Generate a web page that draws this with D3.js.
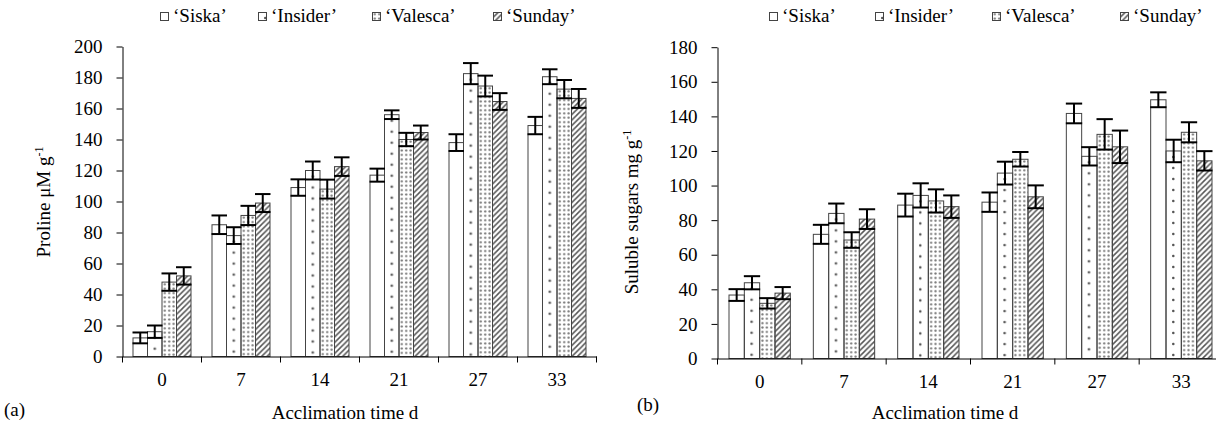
<!DOCTYPE html>
<html><head><meta charset="utf-8">
<script src="https://cdn.jsdelivr.net/npm/d3@7"></script>
<style>
body{margin:0;background:#fff;}
text{font-family:"Liberation Serif","DejaVu Serif",serif;fill:#000;}
</style></head>
<body><svg id="c" width="1216" height="432"></svg>
<script>
const categories = ["0","7","14","21","27","33"];
const cultivars = ["‘Siska’","‘Insider’","‘Valesca’","‘Sunday’"];

const prolineSiska   = [12, 85, 109, 117, 138, 149];
const prolineInsider = [16, 78, 120, 156, 182.5, 180.5];
const prolineValesca = [48, 91, 108, 140, 174.5, 172.5];
const prolineSunday  = [52, 99, 122.5, 144.5, 164.5, 166.5];
const prolineErrSiska   = [3.5, 6, 5.3, 4.2, 5.4, 5.6];
const prolineErrInsider = [4, 5.4, 5.8, 2.8, 6.8, 4.8];
const prolineErrValesca = [5.6, 6.2, 6.1, 4.3, 6.7, 5.9];
const prolineErrSunday  = [5.6, 5.8, 6, 4.5, 5.4, 6.1];

const sugarSiska   = [36.7, 71.8, 88.7, 90.4, 141.7, 149.6];
const sugarInsider = [43.8, 83.9, 94.3, 107.2, 116.9, 120];
const sugarValesca = [31.9, 68.5, 91.1, 115.2, 129.6, 130.8];
const sugarSunday  = [37.8, 80.6, 87.8, 93.5, 122.4, 114.3];
const sugarErrSiska   = [3.4, 5.5, 6.6, 5.6, 5.7, 4.3];
const sugarErrInsider = [3.8, 5.7, 7, 6.6, 5.3, 6.5];
const sugarErrValesca = [3, 4.5, 6.7, 4.2, 8.8, 5.8];
const sugarErrSunday  = [3.5, 5.7, 6.5, 6.6, 9.4, 5.6];

const prolineTicks = [0,20,40,60,80,100,120,140,160,180,200];
const sugarTicks = [0,20,40,60,80,100,120,140,160,180];

const FS = "19px";
const svg = d3.select("#c");
const defs = svg.append("defs");
let pid = 0;

function makePattern(kind, x0, y0) {
  const id = "p" + (pid++);
  if (kind === 0) return null;
  const p = defs.append("pattern").attr("id", id).attr("patternUnits","userSpaceOnUse");
  if (kind === 1) {
    p.attr("width", 40).attr("height", 11).attr("x", x0).attr("y", y0);
    p.append("circle").attr("cx", 7.3).attr("cy", 6).attr("r", 1.3).attr("fill", "#555");
  } else if (kind === 2) {
    p.attr("width", 4.4).attr("height", 4.4).attr("x", x0 + 0.6).attr("y", y0);
    p.append("circle").attr("cx", 2.2).attr("cy", 2.2).attr("r", 1.15).attr("fill", "#777");
  } else {
    p.attr("width", 5.5).attr("height", 5.5).attr("x", x0).attr("y", y0);
    p.append("path").attr("d", "M-1,6.5 L6.5,-1 M-1,1 L1,-1 M4.5,6.5 L6.5,4.5")
     .attr("stroke", "#555").attr("stroke-width", 1.5);
  }
  return "url(#" + id + ")";
}

function chart(cfg) {
  const g = svg.append("g");
  const x = d3.scaleBand().domain(categories).range([cfg.x0, cfg.x1]).padding(0);
  const inner = d3.scaleBand().domain(d3.range(4)).range([cfg.pad, x.bandwidth() - cfg.pad]).padding(0);
  const y = d3.scaleLinear().domain([0, cfg.ymax]).range([cfg.y0, cfg.ytop]);

  cfg.series.forEach((vals, si) => {
    vals.forEach((v, ci) => {
      const bx = x(categories[ci]) + inner(si);
      const bw = inner.bandwidth();
      const fill = makePattern(si, bx, y(v)) || "#fff";
      g.append("rect").attr("x", bx).attr("y", y(v)).attr("width", bw)
        .attr("height", y(0) - y(v)).attr("fill", fill)
        .attr("stroke", "#444").attr("stroke-width", 1);
    });
  });
  cfg.series.forEach((vals, si) => {
    vals.forEach((v, ci) => {
      const e = cfg.errs[si][ci];
      const cx = x(categories[ci]) + inner(si) + inner.bandwidth() / 2;
      const hw = inner.bandwidth() / 2 + 0.5;
      const eg = g.append("g").attr("stroke", "#000").attr("stroke-width", 2).attr("fill", "none");
      eg.append("line").attr("x1", cx).attr("x2", cx).attr("y1", y(v + e)).attr("y2", y(v - e));
      eg.append("line").attr("x1", cx - hw).attr("x2", cx + hw).attr("y1", y(v + e)).attr("y2", y(v + e));
      eg.append("line").attr("x1", cx - hw).attr("x2", cx + hw).attr("y1", y(v - e)).attr("y2", y(v - e));
    });
  });

  const ya = g.append("g").attr("transform", `translate(${cfg.x0},0)`)
    .call(d3.axisLeft(y).tickValues(cfg.ticks).tickSize(6).tickSizeOuter(0).tickPadding(14));
  ya.selectAll("text").style("font-size", FS).style("font-family", "Liberation Serif");
  ya.selectAll("line,path").attr("stroke", "#000");

  const xa = g.append("g").attr("transform", `translate(0,${cfg.y0})`)
    .call(d3.axisBottom(x).tickSize(0).tickPadding(16).tickSizeOuter(0));
  xa.selectAll("text").style("font-size", FS).style("font-family", "Liberation Serif");
  xa.select("path").attr("stroke", "#000");
  const bounds = categories.map(c => x(c)).concat([cfg.x1]);
  xa.selectAll("line.bd").data(bounds).enter().append("line").attr("class","bd")
    .attr("x1", d => d).attr("x2", d => d).attr("y1", 0).attr("y2", 6).attr("stroke", "#000");

  const yt = g.append("text").attr("transform", `translate(${cfg.ytx},${cfg.yty}) rotate(-90)`)
    .attr("text-anchor", "middle").style("font-size", FS);
  yt.append("tspan").text(cfg.ytitle);
  yt.append("tspan").attr("dy", -7).style("font-size", "12px").text("-1");

  g.append("text").attr("x", cfg.xtx).attr("y", 419).attr("text-anchor", "middle")
    .style("font-size", FS).text("Acclimation time d");
  g.append("text").attr("x", cfg.lx).attr("y", cfg.ly).style("font-size", FS).text(cfg.letter);

  cfg.legendX.forEach((lx, i) => {
    const fill = makePattern(i, lx, 12) || "#fff";
    g.append("rect").attr("x", lx + 0.5).attr("y", 12.5).attr("width", 8).attr("height", 8)
      .attr("fill", fill).attr("stroke", "#444").attr("stroke-width", 1);
    g.append("text").attr("x", lx + 13).attr("y", 22).style("font-size", FS).text(cultivars[i]);
  });
}

chart({
  x0: 122.5, x1: 596.5, y0: 356.5, ytop: 46.5, ymax: 200, pad: 10.5,
  series: [prolineSiska, prolineInsider, prolineValesca, prolineSunday],
  errs: [prolineErrSiska, prolineErrInsider, prolineErrValesca, prolineErrSunday],
  ticks: prolineTicks, ytitle: "Proline μM g", ytx: 50, yty: 202,
  xtx: 345, letter: "(a)", lx: 4, ly: 416,
  legendX: [160, 258, 372, 493]
});
chart({
  x0: 717.5, x1: 1223.5, y0: 358.5, ytop: 47.2, ymax: 180, pad: 11.5,
  series: [sugarSiska, sugarInsider, sugarValesca, sugarSunday],
  errs: [sugarErrSiska, sugarErrInsider, sugarErrValesca, sugarErrSunday],
  ticks: sugarTicks, ytitle: "Suluble sugars mg g", ytx: 638, yty: 212,
  xtx: 945, letter: "(b)", lx: 637, ly: 411,
  legendX: [769, 875, 992, 1120]
});
</script></body></html>
